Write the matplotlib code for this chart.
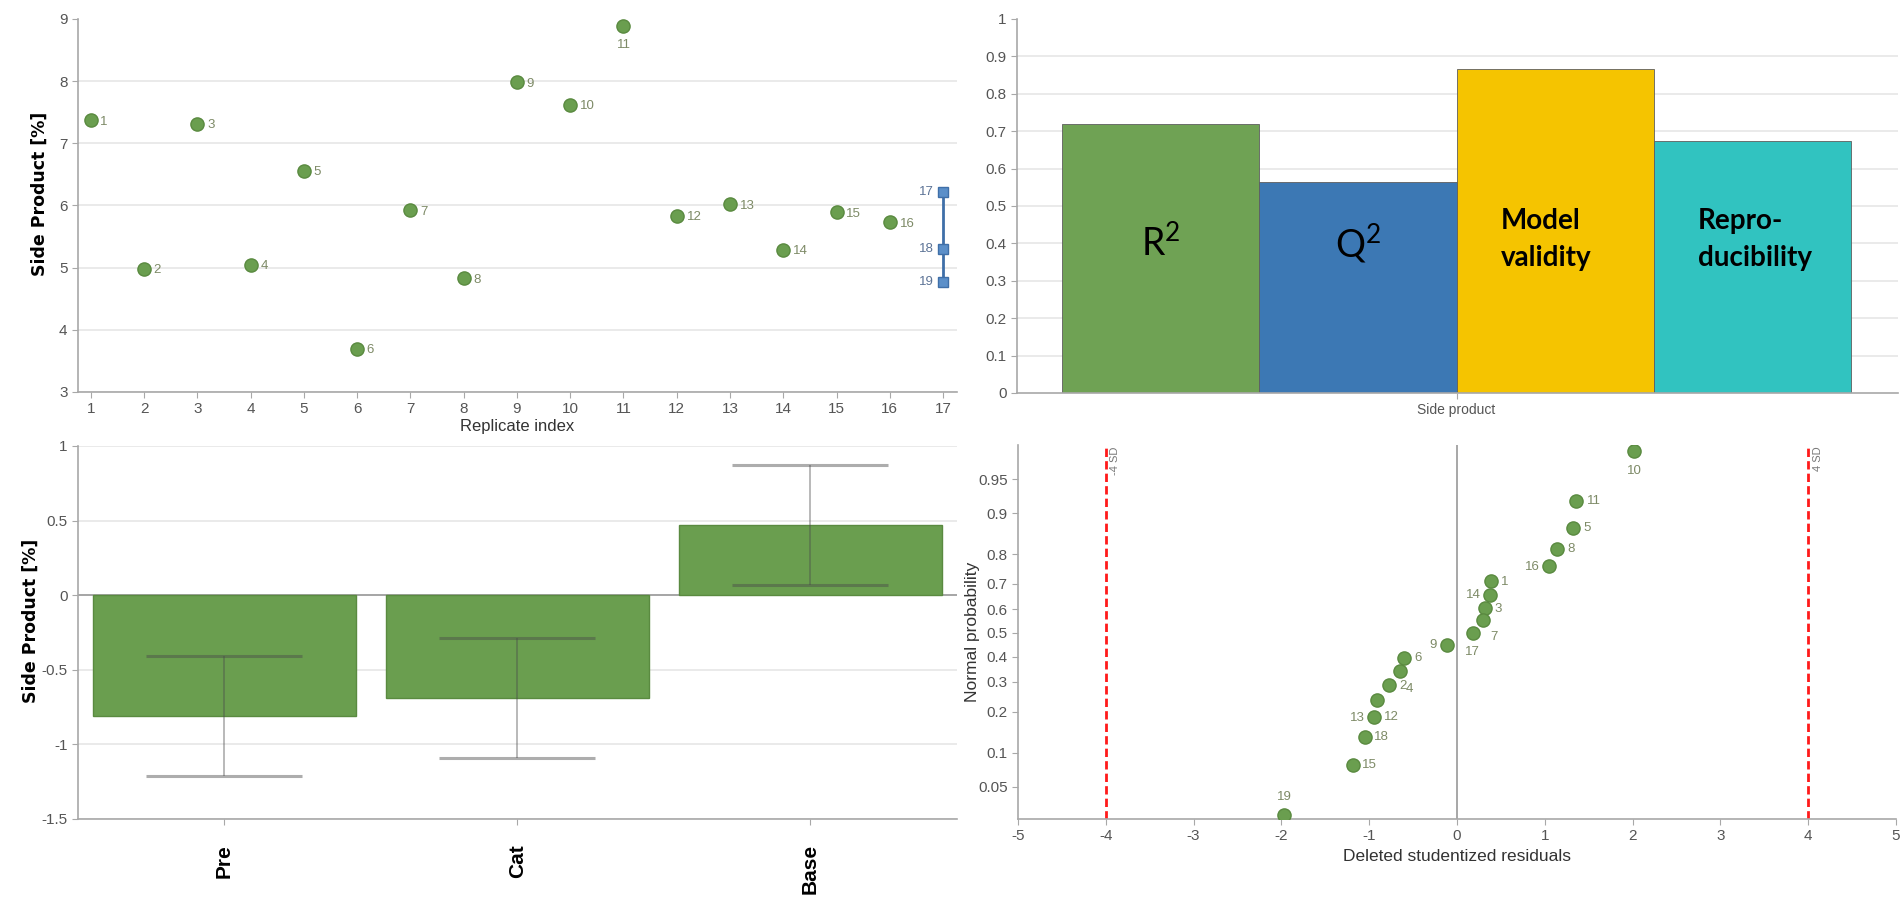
import numpy as np
import matplotlib
matplotlib.use('Agg')
import matplotlib.pyplot as plt
import matplotlib.transforms as mtransforms
from statistics import NormalDist

# replicate plot (top left)
rep_index = list(range(1, 17))
rep_values = [7.37, 4.98, 7.31, 5.05, 6.56, 3.69, 5.92, 4.83, 7.98, 7.62,
              8.89, 5.83, 6.02, 5.29, 5.89, 5.73]
center_index = 17
center_values = [6.21, 5.30, 4.77]
center_labels = ['17', '18', '19']

# summary of fit (top right)
fit_names = ['$\\mathregular{R^2}$', '$\\mathregular{Q^2}$', 'Model\nvalidity', 'Repro-\nducibility']
fit_values = [0.72, 0.565, 0.865, 0.675]
fit_colors = ['#6FA254', '#3C78B4', '#F5C400', '#31C3C0']

# coefficient plot (bottom left)
coef_names = ['Pre', 'Cat', 'Base']
coef_values = [-0.81, -0.69, 0.47]
coef_errors = [0.40, 0.40, 0.40]

# normal probability plot (bottom right)
res_labels = ['10', '11', '5', '8', '16', '1', '14', '3', '7', '17',
              '9', '6', '4', '2', '12', '13', '18', '15', '19']
res_values = [2.02, 1.35, 1.32, 1.14, 1.05, 0.39, 0.38, 0.315, 0.30, 0.18,
              -0.11, -0.60, -0.65, -0.775, -0.91, -0.95, -1.05, -1.19, -1.97]
res_prob = [0.974, 0.921, 0.868, 0.816, 0.763, 0.711, 0.658, 0.605, 0.553, 0.500,
            0.447, 0.395, 0.342, 0.289, 0.237, 0.184, 0.132, 0.079, 0.026]
# label offsets in points (dx, dy) from the point centre
res_offsets = [(0, -14), (13, 0), (10, 0), (10, 0), (-12, -1), (10, -1), (-12, 0), (10, -1),
               (8, -12), (0, -14), (-10, 0), (10, 0), (7, -13), (10, -1), (10, -12),
               (-12, -1), (12, 0), (12, 0), (0, 13)]
sd_limits = [-4, 4]
sd_labels = ['-4 SD', '4 SD']
prob_ticks = [0.05, 0.1, 0.2, 0.3, 0.4, 0.5, 0.6, 0.7, 0.8, 0.9, 0.95]

GREEN = '#6A9E4F'
GREEN_EDGE = '#5A8A40'
BLUE = '#5B8FC9'
BLUE_EDGE = '#3F6FA8'
TICK_C = '#555555'
SPINE_C = '#A8A8A8'
GRID_C = '#E6E6E6'
LABEL_C = '#7D8A66'

plt.rcParams['font.family'] = ['Liberation Sans', 'DejaVu Sans']
plt.rcParams['axes.unicode_minus'] = False


def style_axes(ax):
    for s in ['top', 'right']:
        ax.spines[s].set_visible(False)
    for s in ['left', 'bottom']:
        ax.spines[s].set_color(SPINE_C)
        ax.spines[s].set_linewidth(1.2)
    ax.tick_params(colors=SPINE_C, labelcolor=TICK_C, labelsize=11, length=4)


fig = plt.figure(figsize=(19.01, 8.98), dpi=100)

# ---- top left: replicate plot
ax1 = fig.add_axes([0.0410, 0.5635, 0.4624, 0.4154])
style_axes(ax1)
ax1.plot(rep_index, rep_values, 'o', color=GREEN, markeredgecolor=GREEN_EDGE, markersize=9.5, zorder=3)
for i, v in zip(rep_index, rep_values):
    if i == 11:
        ax1.annotate(str(i), (i, v), xytext=(0, -14), textcoords='offset points',
                     ha='center', va='center', fontsize=9.5, color=LABEL_C)
    else:
        ax1.annotate(str(i), (i, v), xytext=(7, -1), textcoords='offset points',
                     ha='left', va='center', fontsize=9.5, color=LABEL_C)
ax1.plot([center_index] * len(center_values), center_values, '-s', color=BLUE_EDGE, lw=2,
         markerfacecolor=BLUE, markeredgecolor=BLUE_EDGE, markersize=7.5, zorder=3)
for lab, v in zip(center_labels, center_values):
    ax1.annotate(lab, (center_index, v), xytext=(-7, 0), textcoords='offset points',
                 ha='right', va='center', fontsize=9.5, color='#5C7396')
ax1.set_xlim(0.76, 17.26)
ax1.set_ylim(3, 9)
ax1.set_xticks(range(1, 18))
ax1.set_yticks(range(3, 10))
ax1.grid(axis='y', color=GRID_C, lw=1.2)
ax1.yaxis.get_gridlines()[-1].set_visible(False)
ax1.set_axisbelow(True)
ax1.set_xlabel('Replicate index', fontsize=12, color='#333333', labelpad=2)
ax1.set_ylabel('Side Product [%]', fontsize=12.5, fontweight='bold', family='DejaVu Sans')
ax1.yaxis.set_label_coords(-0.033, 0.53)

# ---- top right: summary of fit
ax2 = fig.add_axes([0.5350, 0.5624, 0.4634, 0.4165])
style_axes(ax2)
bar_w = 0.2
bar_x = [-0.3, -0.1, 0.1, 0.3]
ax2.bar(bar_x, fit_values, width=bar_w, color=fit_colors, edgecolor='#5E5E5E', linewidth=0.6, zorder=2)
for k, (x, name) in enumerate(zip(bar_x, fit_names)):
    if k < 2:
        ax2.text(x, 0.40, name, ha='center', va='center', fontsize=27, family='Lato', color='black')
    else:
        ax2.text(x - bar_w / 2 + 0.045, 0.41, name, ha='left', va='center', fontsize=20,
                 fontweight='bold', family='Lato', color='black', linespacing=1.5)
ax2.set_xlim(-0.446, 0.448)
ax2.set_ylim(0, 1)
ax2.set_yticks(np.arange(0, 1.01, 0.1))
ax2.set_yticklabels(['0', '0.1', '0.2', '0.3', '0.4', '0.5', '0.6', '0.7', '0.8', '0.9', '1'])
ax2.set_xticks([0])
ax2.set_xticklabels(['Side product'], fontsize=10)
ax2.grid(axis='y', color=GRID_C, lw=1.2)
ax2.yaxis.get_gridlines()[-1].set_visible(False)
ax2.yaxis.get_gridlines()[0].set_visible(False)
ax2.set_axisbelow(True)

# ---- bottom left: coefficients
ax3 = fig.add_axes([0.0410, 0.0880, 0.4624, 0.4154])
style_axes(ax3)
cx = np.arange(len(coef_names))
ax3.bar(cx, coef_values, width=0.9, color=GREEN, edgecolor=GREEN_EDGE, linewidth=1, zorder=2)
ax3.errorbar(cx, coef_values, yerr=coef_errors, fmt='none', ecolor='#4A4A4A', alpha=0.45,
             elinewidth=1.2, capsize=56, capthick=2.2, zorder=3)
ax3.axhline(0, color='#A0A0A0', lw=1.3, zorder=1)
ax3.set_xlim(-0.5, 2.5)
ax3.set_ylim(-1.5, 1)
ax3.set_yticks([-1.5, -1, -0.5, 0, 0.5, 1])
ax3.set_yticklabels(['-1.5', '-1', '-0.5', '0', '0.5', '1'])
ax3.set_xticks(cx)
ax3.set_xticklabels(coef_names, rotation=90, fontsize=15, fontweight='bold', color='black',
                    family='Liberation Sans')
ax3.tick_params(axis='x', pad=14, labelcolor='black')
ax3.grid(axis='y', color=GRID_C, lw=1.2)
ax3.set_axisbelow(True)
ax3.set_ylabel('Side Product [%]', fontsize=12.5, fontweight='bold', family='DejaVu Sans')
ax3.yaxis.set_label_coords(-0.043, 0.53)

# ---- bottom right: normal probability plot
nd = NormalDist()
fwd = np.vectorize(lambda p: nd.inv_cdf(min(max(p, 1e-9), 1 - 1e-9)), otypes=[float])
inv = np.vectorize(nd.cdf, otypes=[float])

ax4 = fig.add_axes([0.5355, 0.0880, 0.4619, 0.4165])
style_axes(ax4)
ax4.set_yscale('function', functions=(fwd, inv))
ax4.plot(res_values, res_prob, 'o', color=GREEN, markeredgecolor=GREEN_EDGE, markersize=9.5, zorder=3)
for lab, x, p, off in zip(res_labels, res_values, res_prob, res_offsets):
    ax4.annotate(lab, (x, p), xytext=off, textcoords='offset points',
                 ha='center', va='center', fontsize=9.5, color=LABEL_C)
ax4.axvline(0, color='#A0A0A0', lw=1.3, zorder=1)
trans = mtransforms.blended_transform_factory(ax4.transData, ax4.transAxes)
for x, lab in zip(sd_limits, sd_labels):
    ax4.axvline(x, color='#FF1A1A', lw=2, linestyle=(0, (3, 1.5)), zorder=2)
    ax4.text(x + 0.05, 0.995, lab, transform=trans, rotation=90, ha='left', va='top',
             fontsize=8, color='#777777')
ax4.set_xlim(-5, 5)
ax4.set_ylim(0.0233, 0.9778)
ax4.set_xticks(range(-5, 6))
ax4.set_yticks(prob_ticks)
ax4.set_yticklabels([f'{p:g}' for p in prob_ticks])
ax4.minorticks_off()
ax4.set_xlabel('Deleted studentized residuals', fontsize=12.5, color='#333333', labelpad=4)
ax4.set_ylabel('Normal probability', fontsize=12.5, color='#333333')
ax4.yaxis.set_label_coords(-0.043, 0.5)

fig.savefig('out.png', dpi=100)
